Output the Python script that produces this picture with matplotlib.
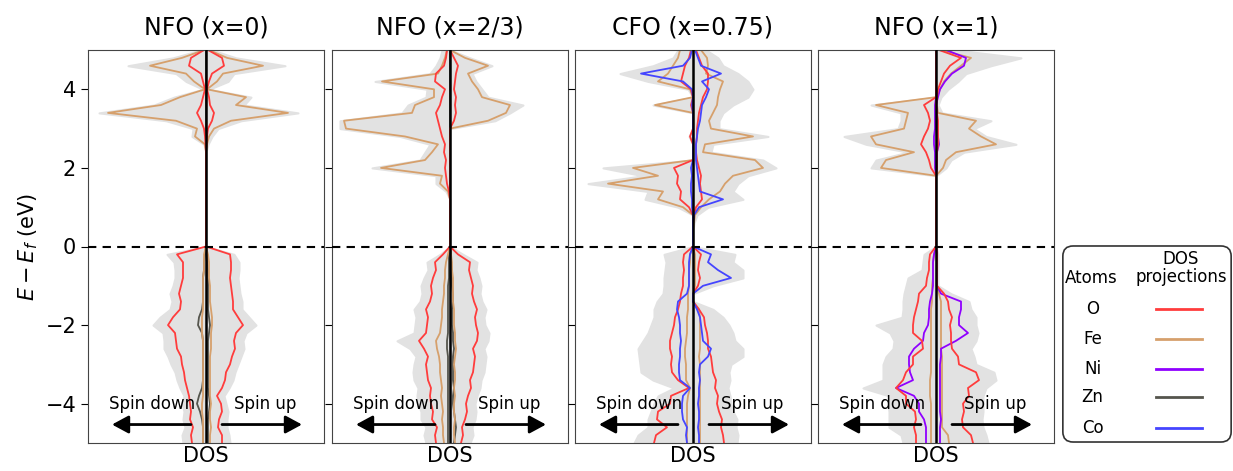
import numpy as np
import matplotlib.pyplot as plt
from matplotlib.patches import FancyBboxPatch

# energy grid (eV), -5 .. 5 in 0.2 steps
energy = np.linspace(-5, 5, 51)

# ---- NFO (x=0) ----
nfo0_tot_up = [2.4, 2.3, 2.1, 2.1, 2.2, 2.0, 1.8, 2.3, 2.7, 2.9, 3.2, 3.5, 3.8, 3.7, 4.0, 5.0, 4.3, 3.6, 3.6, 3.4, 3.3, 3.2, 3.3, 3.3, 2.8, 0.0,
               0, 0, 0, 0, 0, 0, 0, 0, 0, 0, 0, 0, 0.2, 0.6, 1.2, 3.5, 9.2, 3.8, 4.5, 0.3, 2.2, 2.8, 7.9, 3.0, 0.6]
nfo0_tot_dn = [2.3, 2.4, 2.1, 2.3, 2.2, 2.4, 2.2, 2.6, 2.9, 3.1, 3.5, 3.8, 4.2, 4.2, 4.3, 5.3, 4.6, 3.6, 3.4, 3.6, 3.3, 3.1, 3.1, 3.2, 3.9, 0.0,
               0, 0, 0, 0, 0, 0, 0, 0, 0, 0, 0, 0, 0.2, 1.4, 1.3, 4.0, 10.7, 5.2, 3.2, 0.3, 2.0, 3.0, 7.8, 3.3, 0.5]
nfo0_O_up = [1.6, 1.6, 1.2, 1.3, 1.6, 1.5, 1.1, 1.6, 1.9, 2.0, 2.4, 2.6, 2.9, 2.8, 3.0, 3.7, 3.2, 2.7, 2.7, 2.6, 2.5, 2.4, 2.5, 2.5, 2.4, 0.0,
             0, 0, 0, 0, 0, 0, 0, 0, 0, 0, 0, 0, 0.05, 0.1, 0.2, 0.6, 0.8, 0.4, 0.3, 0.1, 0.3, 0.6, 1.8, 1.6, 0.2]
nfo0_O_dn = [1.4, 1.5, 1.3, 1.6, 1.5, 1.6, 1.7, 1.9, 2.1, 2.2, 2.4, 2.5, 2.9, 3.0, 3.1, 3.8, 3.3, 2.6, 2.5, 2.7, 2.5, 2.3, 2.3, 2.3, 2.9, 0.0,
             0, 0, 0, 0, 0, 0, 0, 0, 0, 0, 0, 0, 0.05, 0.1, 0.2, 0.5, 0.9, 0.5, 0.3, 0.1, 0.3, 0.5, 1.7, 1.5, 0.2]
nfo0_Fe_up = [0.4, 0.4, 0.5, 0.4, 0.4, 0.5, 0.4, 0.4, 0.4, 0.4, 0.4, 0.4, 0.5, 0.5, 0.5, 0.6, 0.6, 0.5, 0.4, 0.4, 0.4, 0.3, 0.3, 0.3, 0.2, 0.0,
              0, 0, 0, 0, 0, 0, 0, 0, 0, 0, 0, 0, 0.1, 0.3, 0.8, 2.5, 8.2, 3.0, 4.0, 0.1, 1.1, 1.7, 5.7, 2.1, 0.3]
nfo0_Fe_dn = [0.3, 0.3, 0.3, 0.3, 0.4, 0.4, 0.3, 0.3, 0.3, 0.3, 0.3, 0.3, 0.3, 0.3, 0.4, 0.4, 0.4, 0.3, 0.3, 0.3, 0.3, 0.3, 0.2, 0.2, 0.2, 0.0,
              0, 0, 0, 0, 0, 0, 0, 0, 0, 0, 0, 0, 0.1, 1.1, 0.9, 3.0, 9.8, 4.5, 2.6, 0.1, 1.2, 2.0, 5.6, 2.4, 0.2]
nfo0_Zn_up = [0.2, 0.2, 0.2, 0.2, 0.3, 0.4, 0.3, 0.2, 0.2, 0.2, 0.2, 0.2, 0.2, 0.2, 0.3, 0.4, 0.3, 0.2, 0.2, 0.2, 0.2, 0.2, 0.2, 0.1, 0.1, 0.0,
              0, 0, 0, 0, 0, 0, 0, 0, 0, 0, 0, 0, 0, 0, 0, 0, 0, 0, 0, 0, 0, 0, 0, 0, 0]
nfo0_Zn_dn = [0.3, 0.3, 0.3, 0.4, 0.6, 0.9, 0.7, 0.4, 0.3, 0.3, 0.3, 0.3, 0.3, 0.3, 0.4, 0.8, 0.7, 0.4, 0.3, 0.3, 0.3, 0.3, 0.2, 0.2, 0.1, 0.0,
              0, 0, 0, 0, 0, 0, 0, 0, 0, 0, 0, 0, 0, 0, 0, 0, 0, 0, 0, 0, 0, 0, 0, 0, 0]

# ---- NFO (x=2/3) ----
nfo23_tot_up = [2.0, 2.3, 2.2, 2.5, 2.6, 2.5, 2.7, 3.0, 3.1, 3.4, 3.5, 3.6, 3.4, 3.8, 3.9, 3.5, 3.4, 3.6, 3.2, 3.0, 3.1, 2.9, 2.6, 2.7, 1.3, 0.0,
                0, 0, 0, 0, 0, 0, 0, 0, 0, 0, 0, 0, 0, 0, 0, 4.5, 6.0, 7.3, 3.8, 3.2, 2.6, 2.2, 4.2, 2.0, 0.0]
nfo23_tot_dn = [2.4, 2.6, 2.4, 2.9, 2.9, 3.2, 3.3, 3.2, 3.6, 3.7, 3.6, 3.4, 4.0, 5.3, 3.6, 3.5, 3.4, 3.6, 3.0, 2.8, 2.9, 2.6, 2.2, 2.3, 1.0, 0.0,
                0, 0, 0, 0, 0, 0, 0.4, 1.4, 1.4, 7.8, 3.0, 2.5, 2.0, 5.0, 11.0, 11.0, 4.8, 4.2, 2.4, 2.3, 7.5, 2.0, 1.4, 1.0, 0.8]
nfo23_O_up = [1.1, 1.3, 1.2, 1.5, 1.7, 1.6, 1.8, 2.1, 2.0, 2.3, 2.4, 2.5, 2.3, 2.7, 2.8, 2.6, 2.5, 2.7, 2.4, 2.2, 2.3, 2.1, 1.9, 2.0, 0.8, 0.0,
              0, 0, 0, 0, 0, 0, 0, 0, 0, 0, 0, 0, 0, 0, 0, 0.4, 0.6, 0.5, 0.6, 0.4, 0.5, 0.6, 0.8, 0.4, 0.0]
nfo23_O_dn = [1.4, 1.5, 1.3, 1.8, 1.7, 1.9, 2.0, 1.9, 2.2, 2.3, 2.4, 2.2, 2.6, 3.1, 2.4, 2.3, 2.2, 2.4, 2.0, 1.8, 1.9, 1.7, 1.4, 1.5, 0.7, 0.0,
              0, 0, 0, 0, 0, 0, 0.1, 0.3, 0.4, 0.5, 0.4, 0.6, 0.5, 0.8, 1.0, 1.2, 1.4, 1.0, 0.8, 0.5, 1.5, 1.4, 0.6, 0.4, 0.3]
nfo23_Fe_up = [0.5, 0.4, 0.4, 0.5, 0.4, 0.4, 0.5, 0.4, 0.5, 0.5, 0.4, 0.5, 0.6, 0.5, 0.5, 0.4, 0.4, 0.4, 0.3, 0.3, 0.3, 0.3, 0.2, 0.2, 0.1, 0.0,
               0, 0, 0, 0, 0, 0, 0, 0, 0, 0, 0, 0, 0, 0, 0, 3.8, 5.6, 6.0, 3.2, 2.8, 2.2, 1.8, 3.8, 1.5, 0.0]
nfo23_Fe_dn = [0.6, 0.7, 0.7, 0.8, 0.7, 0.8, 0.9, 0.8, 0.9, 1.0, 1.0, 1.1, 1.3, 1.4, 1.0, 0.9, 0.8, 0.8, 0.7, 0.6, 0.6, 0.5, 0.5, 0.4, 0.2, 0.0,
               0, 0, 0, 0, 0, 0, 0.2, 1.0, 0.8, 6.9, 2.5, 1.8, 1.2, 4.5, 10.4, 10.6, 3.8, 3.5, 1.6, 1.6, 6.8, 1.2, 0.8, 0.5, 0.3]
nfo23_Zn_up = [0.4, 0.5, 0.6, 0.5, 0.4, 0.3, 0.3, 0.4, 0.3, 0.3, 0.3, 0.3, 0.4, 0.3, 0.3, 0.2, 0.2, 0.2, 0.3, 0.3, 0.2, 0.2, 0.2, 0.1, 0.1, 0.0,
               0, 0, 0, 0, 0, 0, 0, 0, 0, 0, 0, 0, 0, 0, 0, 0, 0, 0, 0, 0, 0, 0, 0, 0, 0]
nfo23_Zn_dn = [0.2, 0.2, 0.2, 0.2, 0.2, 0.2, 0.2, 0.2, 0.2, 0.2, 0.2, 0.2, 0.3, 0.3, 0.2, 0.2, 0.2, 0.2, 0.2, 0.2, 0.2, 0.1, 0.1, 0.1, 0.1, 0.0,
               0, 0, 0, 0, 0, 0, 0, 0, 0, 0, 0, 0, 0, 0, 0, 0, 0, 0, 0, 0, 0, 0, 0, 0, 0]

# ---- CFO (x=0.75) ----
cfo_tot_up = [4.4, 4.5, 4.3, 4.4, 4.0, 3.8, 3.7, 3.5, 3.7, 3.6, 3.8, 5.0, 5.0, 4.2, 4.0, 3.6, 3.0, 2.0, 0.0, 0.0, 2.0, 5.0, 5.0, 4.0, 4.2, 0.0,
              0, 0, 0.1, 0.4, 1.5, 5.0, 4.0, 4.5, 5.5, 8.3, 7.0, 1.8, 2.0, 7.5, 2.6, 2.6, 3.0, 4.0, 5.5, 6.0, 5.5, 4.5, 3.0, 2.5, 1.3]
cfo_tot_dn = [5.9, 5.5, 4.5, 4.5, 4.2, 3.9, 3.5, 1.9, 4.0, 5.2, 5.3, 5.4, 5.5, 5.0, 4.5, 4.2, 3.9, 3.9, 3.6, 3.0, 2.9, 2.9, 2.8, 2.7, 2.9, 0.0,
              0, 0, 0, 0, 1.5, 4.8, 4.5, 10.5, 5.0, 9.0, 0, 0, 0, 0.4, 0, 0, 0, 4.0, 0, 0.5, 4.5, 7.3, 4.0, 2.0, 1.5]
cfo_O_up = [3.1, 3.0, 2.8, 2.9, 2.6, 2.4, 2.5, 2.2, 2.3, 2.0, 1.9, 1.8, 1.5, 1.5, 1.4, 1.2, 1.1, 0.6, 0.0, 0.0, 0.5, 0.7, 0.5, 0.6, 0.8, 0.0,
            0, 0, 0, 0.1, 0.3, 0.9, 0.8, 0.7, 0.8, 0.6, 0.4, 0.3, 0.3, 0.4, 0.4, 0.5, 0.6, 0.8, 1.0, 1.4, 1.5, 1.5, 0.9, 0.6, 0.3]
cfo_O_dn = [3.9, 3.7, 2.6, 3.6, 3.5, 2.3, 2.2, 0.4, 1.5, 2.1, 2.2, 2.1, 2.3, 2.3, 2.1, 1.9, 1.8, 1.5, 1.3, 1.2, 1.0, 1.0, 0.9, 1.0, 0.9, 0.0,
            0, 0, 0, 0, 0.4, 1.3, 1.2, 1.6, 1.5, 1.9, 0, 0, 0, 0.3, 0, 0, 0, 0.2, 0, 0.2, 1.2, 1.0, 0.8, 0.4, 0.2]
cfo_Fe_up = [0.7, 0.7, 0.7, 0.7, 0.7, 0.7, 0.7, 0.7, 0.7, 0.7, 0.7, 0.6, 0.7, 0.7, 0.7, 0.7, 0.7, 0.6, 0.0, 0.0, 0.2, 0.2, 0.2, 0.2, 0.2, 0.0,
             0, 0, 0.1, 0.2, 0.8, 1.6, 2.7, 3.2, 4.0, 7.0, 6.2, 1.0, 1.2, 6.0, 1.8, 1.6, 2.0, 2.4, 2.5, 2.7, 3.0, 1.3, 1.5, 1.4, 0.8]
cfo_Fe_dn = [0.6, 0.6, 0.6, 0.6, 0.6, 0.6, 0.5, 0.3, 0.7, 0.7, 0.7, 0.8, 0.8, 0.7, 0.6, 0.6, 0.6, 0.5, 0.5, 0.5, 0.4, 0.4, 0.4, 0.3, 0.3, 0.0,
             0, 0, 0, 0, 1.0, 3.5, 3.0, 8.5, 3.5, 6.0, 0, 0, 0, 0, 0, 0, 0, 3.8, 0, 0.3, 3.5, 2.5, 2.0, 1.5, 1.3]
cfo_Co_up = [0.6, 0.6, 0.5, 0.6, 0.6, 0.5, 0.6, 0.6, 0.7, 0.6, 0.7, 1.5, 1.8, 1.0, 0.9, 0.8, 0.7, 0.4, 0.0, 0.0, 1.0, 3.8, 2.5, 1.5, 1.8, 0.0,
             0, 0, 0, 0.1, 0.6, 3.0, 0.7, 0.6, 0.5, 0.4, 0.3, 0.3, 0.3, 0.4, 0.5, 0.7, 0.8, 0.9, 1.3, 1.6, 0.9, 2.8, 0.8, 0.5, 0.2]
cfo_Co_dn = [0.6, 0.7, 0.6, 1.0, 1.1, 1.1, 1.0, 0.3, 1.3, 1.4, 1.4, 1.3, 1.3, 1.2, 1.3, 1.3, 1.4, 1.6, 1.5, 0.6, 0.4, 0.4, 0.4, 0.4, 0.3, 0.0,
             0, 0, 0, 0, 0.1, 0.1, 0.2, 0.2, 0.1, 0.2, 0, 0, 0, 0, 0, 0, 0, 0.1, 0, 0.1, 1.0, 5.2, 1.0, 0.3, 0.1]

# ---- NFO (x=1) ----
nfo1_tot_up = [5.2, 5.0, 4.7, 4.6, 4.7, 4.7, 4.7, 5.0, 6.0, 5.8, 4.0, 3.8, 3.5, 4.0, 4.2, 4.0, 4.0, 3.5, 3.3, 1.5, 0.2, 0.2, 0.2, 0.2, 0.2, 0.0,
               0, 0, 0, 0, 0, 0, 0, 0, 0, 1.0, 1.5, 2.8, 8.0, 5.0, 3.8, 5.5, 0.6, 0.2, 0.5, 1.2, 2.2, 3.0, 5.5, 8.5, 2.0]
nfo1_tot_dn = [3.3, 3.5, 4.7, 4.7, 4.7, 4.8, 4.7, 7.3, 5.3, 5.3, 5.3, 5.0, 4.3, 4.2, 4.6, 6.0, 3.4, 3.3, 3.3, 3.2, 3.0, 2.8, 1.4, 1.3, 1.2, 0.0,
               0, 0, 0, 0, 0, 0, 0, 0, 0, 6.5, 6.0, 2.8, 7.0, 9.2, 3.8, 3.5, 3.5, 6.5, 0, 0, 0, 0, 0, 0, 0]
nfo1_O_up = [3.7, 3.5, 2.7, 2.6, 2.8, 2.7, 3.3, 3.2, 4.3, 4.0, 2.3, 2.2, 1.6, 1.5, 1.5, 1.4, 1.6, 1.3, 1.2, 0.8, 0.1, 0.1, 0.1, 0.1, 0.1, 0.0,
             0, 0, 0, 0, 0, 0, 0, 0, 0, 0.1, 0.1, 0.1, 0.2, 0.2, 0.2, 0.2, 0.1, 0, 0.1, 0.2, 0.5, 0.8, 1.4, 2.5, 0.3]
nfo1_O_dn = [2.0, 2.0, 2.2, 2.0, 2.1, 3.0, 3.0, 4.0, 3.3, 3.0, 2.3, 2.3, 1.3, 1.4, 2.3, 2.3, 2.2, 2.0, 1.8, 1.7, 1.0, 0.9, 0.7, 0.7, 0.6, 0.0,
             0, 0, 0, 0, 0, 0, 0, 0, 0, 0.5, 0.7, 1.0, 1.5, 1.2, 0.8, 0.6, 0.8, 1.2, 0, 0, 0, 0, 0, 0, 0]
nfo1_Fe_up = [1.3, 1.2, 0.6, 0.6, 0.6, 0.6, 0.6, 0.6, 0.6, 0.6, 0.6, 0.6, 0.5, 0.5, 0.5, 0.5, 0.5, 0.5, 0.5, 0.3, 0.05, 0.05, 0.05, 0.05, 0.05, 0.0,
              0, 0, 0, 0, 0, 0, 0, 0, 0, 0.7, 1.0, 2.0, 6.0, 4.5, 3.3, 4.0, 0.2, 0.1, 0.1, 0.4, 0.8, 1.5, 2.5, 3.5, 0.5]
nfo1_Fe_dn = [0.5, 0.5, 0.5, 0.5, 0.5, 0.5, 0.6, 0.6, 0.6, 0.5, 0.5, 0.5, 0.5, 0.5, 0.5, 0.5, 0.5, 0.5, 0.4, 0.4, 0.4, 0.3, 0.3, 0.3, 0.2, 0.0,
              0, 0, 0, 0, 0, 0, 0, 0, 0, 5.5, 5.0, 2.2, 6.0, 6.5, 3.2, 3.0, 2.8, 6.0, 0, 0, 0, 0, 0, 0, 0]
nfo1_Ni_up = [0.4, 0.4, 0.4, 0.5, 0.4, 0.4, 0.4, 0.4, 0.4, 0.4, 0.4, 0.5, 0.5, 2.0, 3.2, 2.3, 2.3, 2.5, 2.5, 0.5, 0.1, 0.1, 0.1, 0.1, 0.1, 0.0,
              0, 0, 0, 0, 0, 0, 0, 0, 0, 0.1, 0.1, 0.1, 0.3, 0.2, 0.1, 0.1, 0.1, 0, 0.2, 0.4, 0.9, 1.6, 2.8, 3.0, 1.0]
nfo1_Ni_dn = [1.0, 1.0, 1.0, 1.2, 1.7, 1.7, 2.2, 4.0, 2.3, 2.6, 2.7, 2.7, 2.2, 1.3, 1.2, 0.8, 0.7, 0.7, 0.6, 0.4, 0.3, 0.3, 0.3, 0.3, 0.2, 0.0,
              0, 0, 0, 0, 0, 0, 0, 0, 0, 0.1, 0.1, 0.1, 0.2, 0.2, 0.1, 0.1, 0.1, 0.1, 0, 0, 0, 0, 0, 0, 0]

titles = ["NFO (x=0)", "NFO (x=2/3)", "CFO (x=0.75)", "NFO (x=1)"]
atoms = ["O", "Fe", "Ni", "Zn", "Co"]
colors = {"O": "#ff3c3c", "Fe": "#d6a06c", "Ni": "#8f00ff", "Zn": "#55554d", "Co": "#4545ff"}

panels = [
    (nfo0_tot_up, nfo0_tot_dn, {"Zn": (nfo0_Zn_up, nfo0_Zn_dn), "Fe": (nfo0_Fe_up, nfo0_Fe_dn),
                                "O": (nfo0_O_up, nfo0_O_dn)}),
    (nfo23_tot_up, nfo23_tot_dn, {"Zn": (nfo23_Zn_up, nfo23_Zn_dn), "Fe": (nfo23_Fe_up, nfo23_Fe_dn),
                                  "O": (nfo23_O_up, nfo23_O_dn)}),
    (cfo_tot_up, cfo_tot_dn, {"Fe": (cfo_Fe_up, cfo_Fe_dn), "O": (cfo_O_up, cfo_O_dn),
                              "Co": (cfo_Co_up, cfo_Co_dn)}),
    (nfo1_tot_up, nfo1_tot_dn, {"Fe": (nfo1_Fe_up, nfo1_Fe_dn), "Ni": (nfo1_Ni_up, nfo1_Ni_dn),
                                "O": (nfo1_O_up, nfo1_O_dn)}),
]

fig = plt.figure(figsize=(12.33, 4.71), dpi=100)
lefts = [88, 332, 575, 818]
W, H = 1233, 471

for i, (tot_up, tot_dn, parts) in enumerate(panels):
    ax = fig.add_axes([lefts[i] / W, 28 / H, 236 / W, 393 / H])
    ax.fill_betweenx(energy, -np.array(tot_dn), tot_up, color="#e2e2e2", lw=1.5, ec="#e2e2e2")
    for atom, (up, dn) in parts.items():
        ax.plot(up, energy, color=colors[atom], lw=1.3)
        ax.plot(-np.array(dn), energy, color=colors[atom], lw=1.3)
    ax.axvline(0, color="black", lw=1.8, zorder=5)
    ax.axhline(0, color="black", lw=1.5, ls=(0, (4, 3)), zorder=5)
    ax.set_xlim(-11.8, 11.8)
    ax.set_ylim(-5, 5)
    ax.set_xticks([])
    ax.set_yticks([-4, -2, 0, 2, 4])
    ax.tick_params(axis="y", labelsize=15, length=5)
    if i > 0:
        ax.set_yticklabels([])
    else:
        ax.set_ylabel("$E - E_f$ (eV)", fontsize=15)
    for s in ax.spines.values():
        s.set_color("#444444")
    ax.set_title(titles[i], fontsize=17, pad=11)
    ax.set_xlabel("DOS", fontsize=15, labelpad=2)
    arrow = dict(arrowstyle="-|>,head_length=0.5,head_width=0.27", color="black", lw=2,
                 mutation_scale=20, shrinkA=0, shrinkB=0)
    ax.annotate("", xy=(-9.4, -4.53), xytext=(-1.5, -4.53), arrowprops=arrow)
    ax.annotate("", xy=(9.6, -4.53), xytext=(1.6, -4.53), arrowprops=arrow)
    ax.text(-5.4, -4.0, "Spin down", fontsize=12, ha="center", va="center")
    ax.text(5.9, -4.0, "Spin up", fontsize=12, ha="center", va="center")

# legend box
lax = fig.add_axes([1062 / W, 28 / H, 170 / W, 198 / H])
lax.set_xlim(0, 1)
lax.set_ylim(0, 1)
lax.axis("off")
lax.add_patch(FancyBboxPatch((0.005, 0.005), 0.99, 0.99, boxstyle="round,pad=0,rounding_size=0.06",
                             fc="white", ec="#333333", lw=1.2, transform=lax.transAxes,
                             mutation_aspect=170 / 198))
lax.text(0.17, 0.833, "Atoms", fontsize=12, ha="center", va="center")
lax.text(0.70, 0.884, "DOS\nprojections", fontsize=12, ha="center", va="center", linespacing=0.95)
rows = [0.677, 0.525, 0.374, 0.232, 0.076]
for atom, yy in zip(atoms, rows):
    lax.text(0.18, yy, atom, fontsize=12, ha="center", va="center")
    lax.plot([0.553, 0.824], [yy, yy], color=colors[atom], lw=2)

fig.savefig("out.png", dpi=100)
